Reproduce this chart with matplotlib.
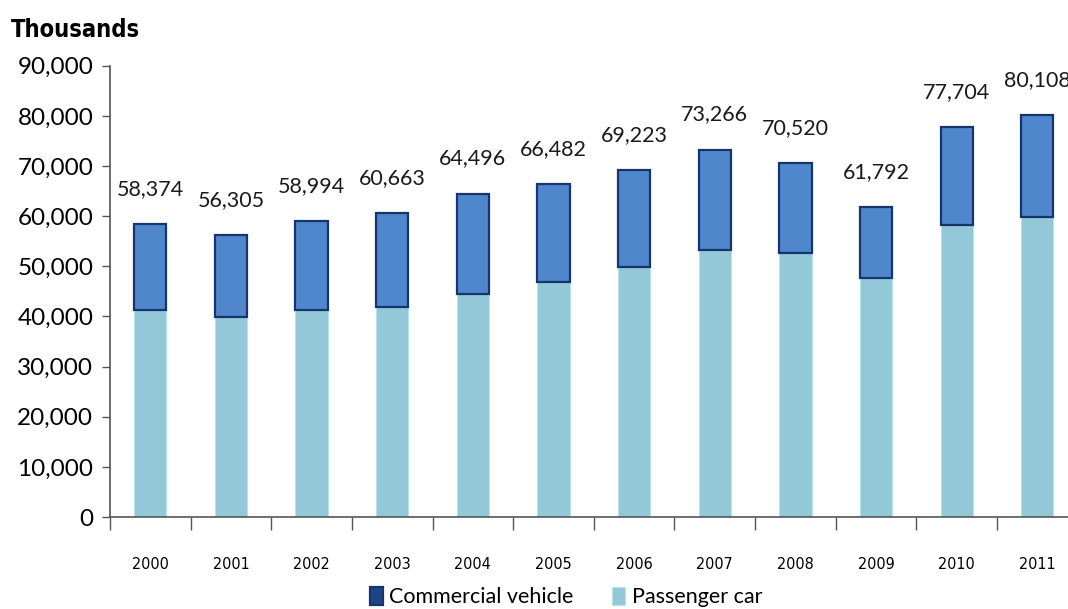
import matplotlib.pyplot as plt
import numpy as np

plt.rcParams['font.family'] = ['Lato', 'DejaVu Sans']

# world vehicle production, thousands of units
years = ['2000', '2001', '2002', '2003', '2004', '2005',
         '2006', '2007', '2008', '2009', '2010', '2011']
passenger = [41216, 39826, 41358, 41969, 44554, 46863,
             49919, 53201, 52726, 47773, 58265, 59929]
commercial = [17158, 16479, 17636, 18694, 19942, 19619,
              19304, 20065, 17794, 14019, 19439, 20179]

x = np.arange(len(years))
totals = np.array(passenger) + np.array(commercial)

fig = plt.figure(figsize=(10.68, 6.09), dpi=100)
ax = fig.add_axes([0.103, 0.151, 0.906, 0.741])

ax.bar(x, passenger, width=0.4, color='#92c8d8', edgecolor='#b5e4ef',
       linewidth=0.8, label='Passenger car', zorder=2)
ax.bar(x, commercial, width=0.4, bottom=passenger, color='#4f86cc',
       edgecolor='#16366b', linewidth=1.6, label='Commercial vehicle', zorder=2)

# totals above each stack; the last one runs into the right edge
for xi, t in zip(x, totals):
    ax.text(xi, t + 7000, f'{t:,}', ha='center', va='center',
            fontsize=15.5, color='#1a1a1a')

ax.set_xlim(-0.5, len(years) - 0.5)
ax.set_ylim(0, 90000)
ax.set_yticks(np.arange(0, 90001, 10000))
ax.set_yticklabels([f'{v:,}' for v in range(0, 90001, 10000)], fontsize=17.5)

# year labels centred under bars, tick marks on category boundaries
ax.set_xticks(x)
ax.set_xticklabels(years, fontsize=11.5, family='DejaVu Sans', fontstretch='condensed')
ax.tick_params(axis='x', length=0, pad=29)
ax.set_xticks(np.arange(-0.5, len(years)), minor=True)
ax.tick_params(axis='x', which='minor', length=9, color='#555555', width=1)
ax.tick_params(axis='y', length=6, color='#555555', width=1, pad=6)

for s in ['top', 'right']:
    ax.spines[s].set_visible(False)
ax.spines['left'].set_color('#555555')
ax.spines['bottom'].set_color('#555555')
ax.spines['left'].set_linewidth(1.2)
ax.spines['bottom'].set_linewidth(1.2)

handles, labels = ax.get_legend_handles_labels()
leg = fig.legend(handles[::-1], labels[::-1], loc='center', bbox_to_anchor=(0.53, 0.02),
                 ncol=2, frameon=False, fontsize=15.5, handlelength=0.6, handleheight=0.9,
                 handletextpad=0.3, columnspacing=1.8)
leg.legend_handles[0].set_facecolor('#1d4488')

fig.text(0.01, 0.95, 'Thousands', fontsize=17, fontweight='bold', va='center',
         ha='left', family='DejaVu Sans', fontstretch='condensed')

fig.savefig('out.png', dpi=100)
